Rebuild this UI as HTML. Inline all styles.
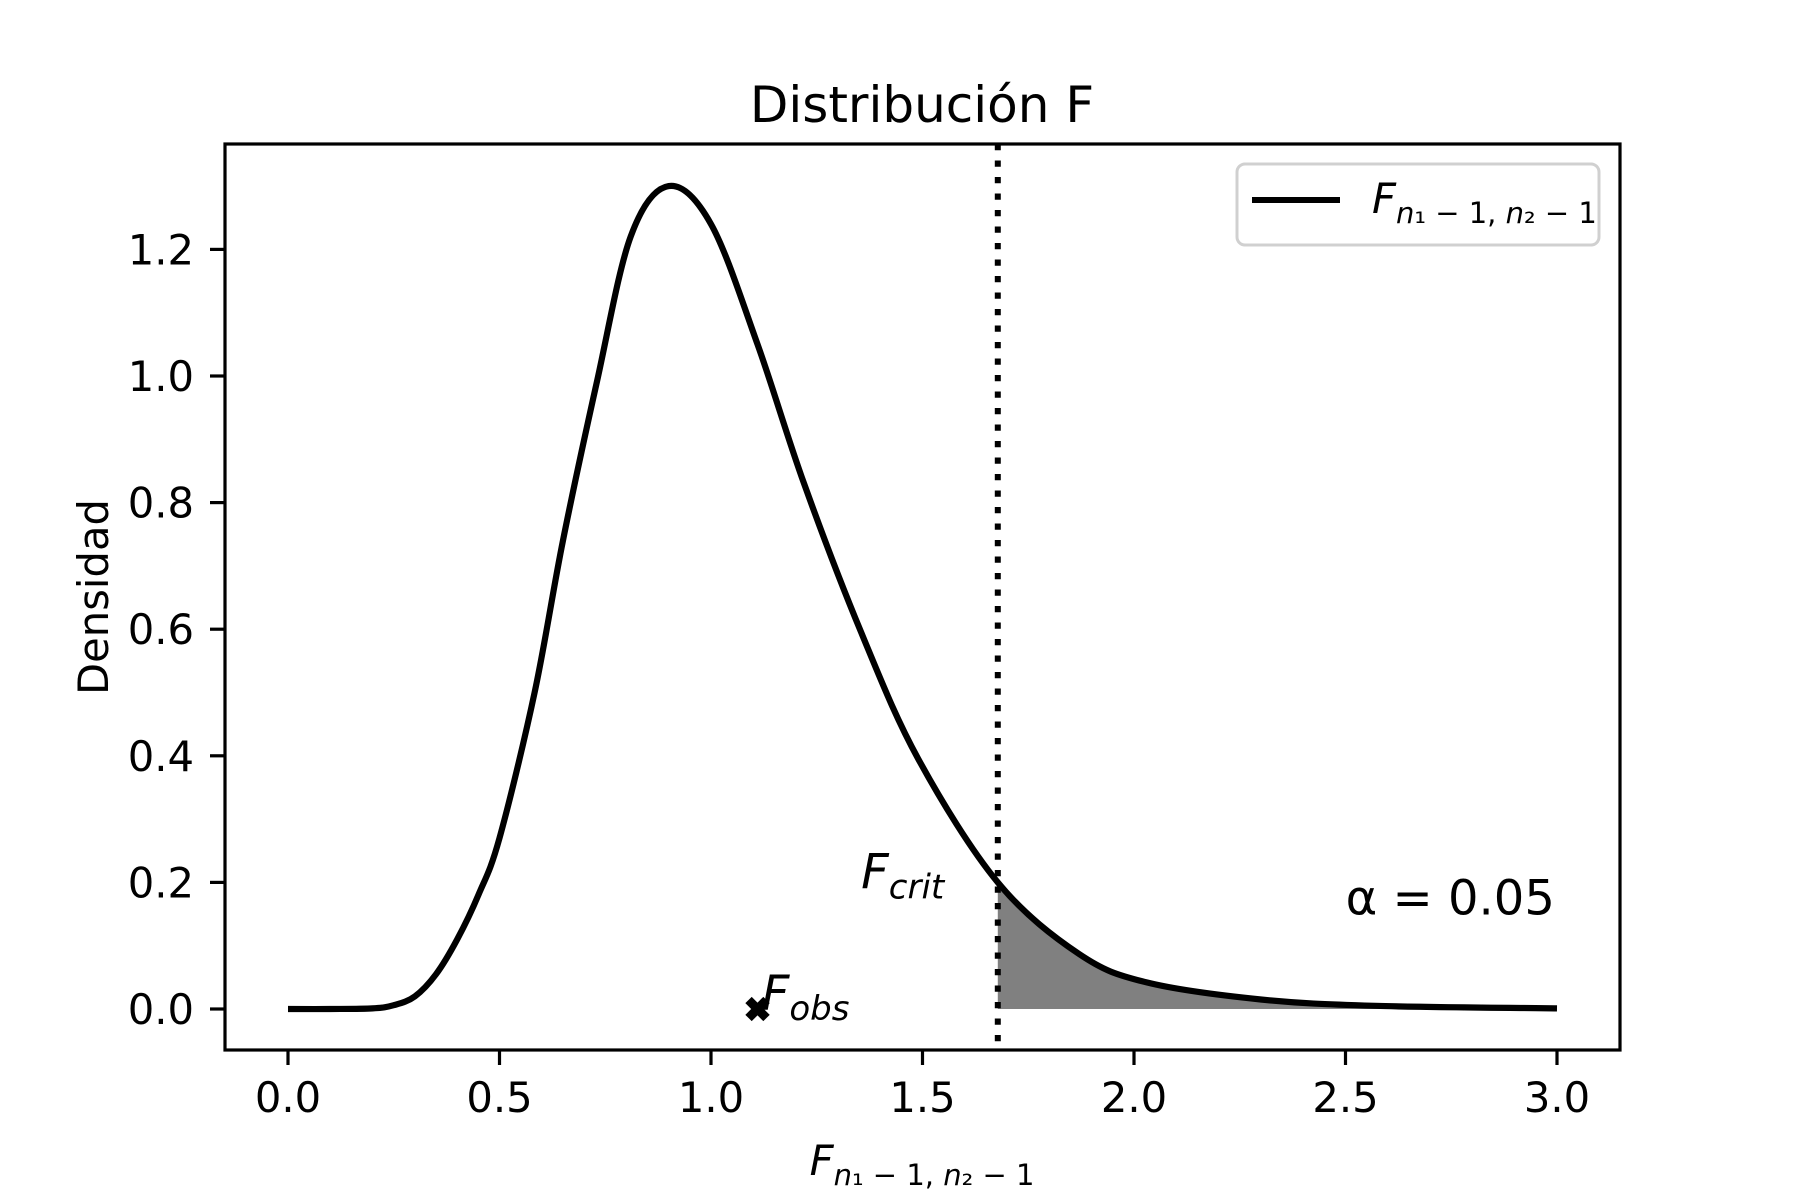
<!DOCTYPE html>
<html><head><meta charset="utf-8"><style>
html,body{margin:0;padding:0;background:#fff;}
svg{display:block;font-family:"DejaVu Sans","Liberation Sans",sans-serif;}
</style></head><body>
<svg id="chart" width="1800" height="1200" viewBox="0 0 1800 1200" xmlns="http://www.w3.org/2000/svg">
<rect width="1800" height="1200" fill="#fff"/>
<text x="922" y="122" font-size="50" text-anchor="middle">Distribución F</text>
<g id="plot"></g>
<rect x="225" y="144" width="1395" height="906" fill="none" stroke="#000" stroke-width="3.2"/>
<text transform="translate(108,597) rotate(-90)" font-size="41.7" text-anchor="middle">Densidad</text>
<text x="922" y="1175" font-size="41.7" text-anchor="middle"><tspan font-style="italic">F</tspan><tspan font-size="29" dy="10"><tspan font-style="italic">n</tspan>₁ − 1, <tspan font-style="italic">n</tspan>₂ − 1</tspan></text>
<g>
<rect x="1237" y="164" width="362" height="81" rx="8" fill="#fff" stroke="#d0d0d0" stroke-width="3"/>
<line x1="1252" y1="200" x2="1340" y2="200" stroke="#000" stroke-width="6"/>
<text x="1372" y="213" font-size="41.7"><tspan font-style="italic">F</tspan><tspan font-size="29" dy="10"><tspan font-style="italic">n</tspan>₁ − 1, <tspan font-style="italic">n</tspan>₂ − 1</tspan></text>
</g>
</svg>
<script>
const xs = [0,0.1,0.2,0.25,0.3,0.35,0.4,0.45,0.5,0.583,0.65,0.73,0.81,0.9,1.0,1.11,1.22,1.355,1.49,1.678,1.87,2.03,2.3,2.57,3.0];
const ys = [0,0,0.001,0.006,0.02,0.055,0.11,0.18,0.27,0.50,0.74,0.99,1.22,1.30,1.24,1.05,0.83,0.595,0.395,0.20,0.087,0.042,0.015,0.005,0.001];
const xTicks = [0.0,0.5,1.0,1.5,2.0,2.5,3.0];
const xTickLabels = ["0.0","0.5","1.0","1.5","2.0","2.5","3.0"];
const yTicks = [0.0,0.2,0.4,0.6,0.8,1.0,1.2];
const yTickLabels = ["0.0","0.2","0.4","0.6","0.8","1.0","1.2"];
const fCrit = 1.678;
const shadeEnd = 2.66;
const fObs = 1.11;
const alphaLabel = "α = 0.05";

const NS = "http://www.w3.org/2000/svg";
const X = v => 288 + 423 * v;
const Y = v => 1009 - 633 * v;
const plot = document.getElementById('plot');
function mk(tag, attrs, parent) {
  const e = document.createElementNS(NS, tag);
  for (const k in attrs) e.setAttribute(k, attrs[k]);
  (parent || plot).appendChild(e);
  return e;
}
// curve path (Catmull-Rom)
const P = xs.map((x, i) => [X(x), Y(ys[i])]);
let d = `M${P[0][0]},${P[0][1]}`;
for (let i = 0; i < P.length - 1; i++) {
  const p0 = P[Math.max(0, i - 1)], p1 = P[i], p2 = P[i + 1], p3 = P[Math.min(P.length - 1, i + 2)];
  const c1 = [p1[0] + (p2[0] - p0[0]) / 6, p1[1] + (p2[1] - p0[1]) / 6];
  const c2 = [p2[0] - (p3[0] - p1[0]) / 6, p2[1] - (p3[1] - p1[1]) / 6];
  d += ` C${c1[0]},${c1[1]} ${c2[0]},${c2[1]} ${p2[0]},${p2[1]}`;
}
const defs = mk('defs', {});
const cp = mk('clipPath', {id: 'shadeClip'}, defs);
mk('rect', {x: X(fCrit), y: 0, width: X(shadeEnd) - X(fCrit), height: Y(0)}, cp);
const shade = mk('path', {d: d + ` L${X(3)},${Y(0)} L${X(0)},${Y(0)} Z`, fill: '#808080', 'clip-path': 'url(#shadeClip)'});


const curve = mk('path', {d: d, fill: 'none', stroke: '#000', 'stroke-width': 6.2, 'stroke-linejoin': 'round'});


const crit = mk('line', {x1: X(fCrit), y1: 144, x2: X(fCrit), y2: 1050, stroke: '#000', 'stroke-width': 6, 'stroke-dasharray': '6.2 10.3'});


// F obs marker
const mx = X(fObs), my = Y(0);
const marker = mk('g', {});


mk('line', {x1: mx - 9, y1: my - 9, x2: mx + 9, y2: my + 9, stroke: '#000', 'stroke-width': 9}, marker);
mk('line', {x1: mx - 9, y1: my + 9, x2: mx + 9, y2: my - 9, stroke: '#000', 'stroke-width': 9}, marker);
const tObs = mk('text', {x: X(1.12), y: Y(0) + 1, 'font-size': 48, 'font-style': 'italic'});


tObs.innerHTML = 'F<tspan font-size="34" dy="10">obs</tspan>';
const tCrit = mk('text', {x: X(1.355), y: Y(0.19), 'font-size': 48, 'font-style': 'italic'});


tCrit.innerHTML = 'F<tspan font-size="34" dy="10">crit</tspan>';
const tA = mk('text', {x: X(2.995), y: Y(0.149), 'font-size': 48, 'text-anchor': 'end'});


tA.textContent = alphaLabel;
// ticks
xTicks.forEach((v, i) => {
  const t = mk('line', {x1: X(v), y1: 1050, x2: X(v), y2: 1065, stroke: '#000', 'stroke-width': 3.2});
  
  
  const l = mk('text', {x: X(v), y: 1112, 'font-size': 41.7, 'text-anchor': 'middle'});
  
  
  l.textContent = xTickLabels[i];
});
yTicks.forEach((v, i) => {
  const t = mk('line', {x1: 210, y1: Y(v), x2: 225, y2: Y(v), stroke: '#000', 'stroke-width': 3.2});
  
  
  const l = mk('text', {x: 194, y: Y(v) + 15, 'font-size': 41.7, 'text-anchor': 'end'});
  
  
  l.textContent = yTickLabels[i];
});
</script>
</body></html>
